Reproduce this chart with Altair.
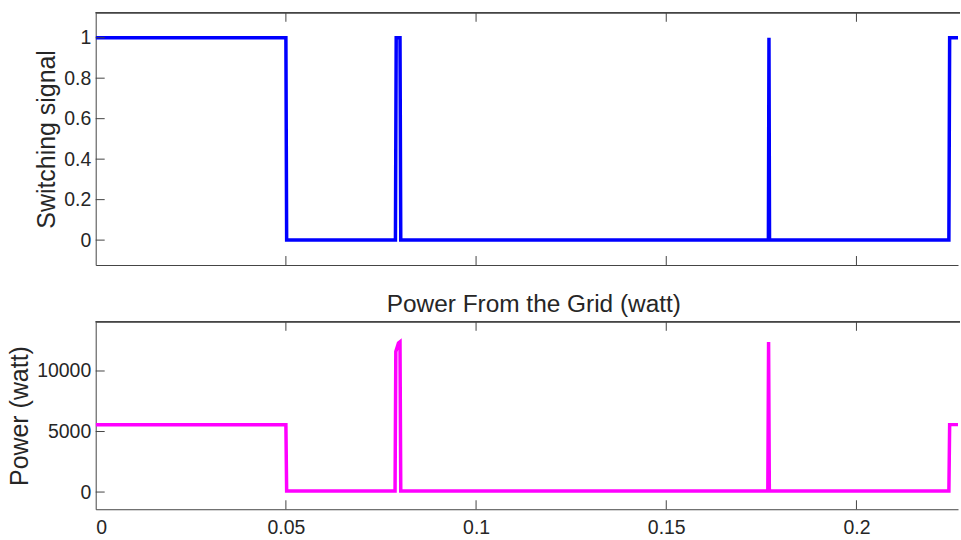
import altair as alt
import pandas as pd

# ---- data ----
switch_t = [0.0, 0.0500, 0.0502, 0.0788, 0.0790, 0.0800, 0.0802, 0.17685, 0.1770, 0.17715, 0.2243, 0.2245, 0.2267]
switch_v = [1, 1, 0, 0, 1, 1, 0, 0, 1, 0, 0, 1, 1]

power_t = [0.0, 0.0500, 0.0502, 0.0787, 0.0789, 0.0796, 0.0800, 0.0802, 0.1767, 0.1769, 0.1771, 0.2243, 0.2245, 0.2267]
power_v = [5550, 5550, 80, 80, 11600, 12300, 12400, 80, 80, 12400, 80, 80, 5570, 5570]

x_ticks = [0, 0.05, 0.1, 0.15, 0.2]
switch_ticks = [0, 0.2, 0.4, 0.6, 0.8, 1]
power_ticks = [0, 5000, 10000]

X_DOMAIN = [0, 0.2267]
SW_DOMAIN = [-0.123, 1.123]
PW_DOMAIN = [-1420, 14060]

W = 865
H1 = 253
H2 = 188
TICK = 9
FONT = "Liberation Sans"
TXT = "#262626"
AX = "#444444"

xscale = alt.Scale(domain=X_DOMAIN, nice=False, zero=False)
ys1 = alt.Scale(domain=SW_DOMAIN, nice=False, zero=False)
ys2 = alt.Scale(domain=PW_DOMAIN, nice=False, zero=False)

sw = pd.DataFrame({"t": switch_t, "v": switch_v, "i": range(len(switch_t))})
pw = pd.DataFrame({"t": power_t, "v": power_v, "i": range(len(power_t))})
xt = pd.DataFrame({"t": x_ticks[1:]})
yt1 = pd.DataFrame({"v": switch_ticks})
yt2 = pd.DataFrame({"v": power_ticks})


def panel(df, color, yscale, yticks_df, ytick_vals, ytitle, yfmt, h, show_xlabels):
    xaxis = alt.Axis(values=x_ticks, format="~g", labels=show_xlabels, ticks=False,
                     domain=True, grid=False, title=None, labelPadding=9)
    yaxis = alt.Axis(values=ytick_vals, format=yfmt, ticks=False, domain=True, grid=False,
                     title=ytitle, labelPadding=5, titlePadding=4)
    line = alt.Chart(df).mark_line(color=color, strokeWidth=3.5, clip=True).encode(
        x=alt.X("t:Q", scale=xscale, axis=xaxis),
        y=alt.Y("v:Q", scale=yscale, axis=yaxis),
        order=alt.Order("i:Q"),
    )
    xtick_bottom = alt.Chart(xt).mark_rule(color=AX, strokeWidth=1).encode(
        x=alt.X("t:Q", scale=xscale, axis=xaxis),
        y=alt.value(h), y2=alt.value(h - TICK),
    )
    xtick_top = alt.Chart(xt).mark_rule(color=AX, strokeWidth=1).encode(
        x=alt.X("t:Q", scale=xscale, axis=xaxis),
        y=alt.value(0), y2=alt.value(TICK),
    )
    top_border = alt.Chart(xt).mark_rule(color=AX, strokeWidth=1).encode(
        x=alt.value(0), x2=alt.value(W + 2), y=alt.value(0),
    )
    ytick = alt.Chart(yticks_df).mark_rule(color=AX, strokeWidth=1).encode(
        y=alt.Y("v:Q", scale=yscale, axis=yaxis),
        x=alt.value(0), x2=alt.value(TICK),
    )
    return alt.layer(line, xtick_bottom, xtick_top, top_border, ytick).properties(width=W, height=h)


top = panel(sw, "#0000FF", ys1, yt1, switch_ticks, "Switching signal", "~g", H1, False)
bottom = panel(pw, "#FF00FF", ys2, yt2, power_ticks, "Power (watt)", "d", H2, True).properties(
    title=alt.TitleParams("Power From the Grid (watt)", fontSize=24.5, fontWeight="normal",
                          font=FONT, color=TXT, offset=4, anchor="middle", dx=7)
)

chart = alt.vconcat(top, bottom, spacing=57, bounds="flush").properties(
    padding={"left": 7, "top": 11, "right": 0, "bottom": 0},
    background="white",
).configure_view(strokeWidth=0).configure_axis(
    labelFont=FONT, labelFontSize=19.5, labelColor=TXT,
    titleFont=FONT, titleFontSize=25, titleFontWeight="normal", titleColor=TXT,
    domainColor=AX, domainWidth=1,
)

chart.save("out.html", embed_options={"renderer": "svg", "actions": False})
